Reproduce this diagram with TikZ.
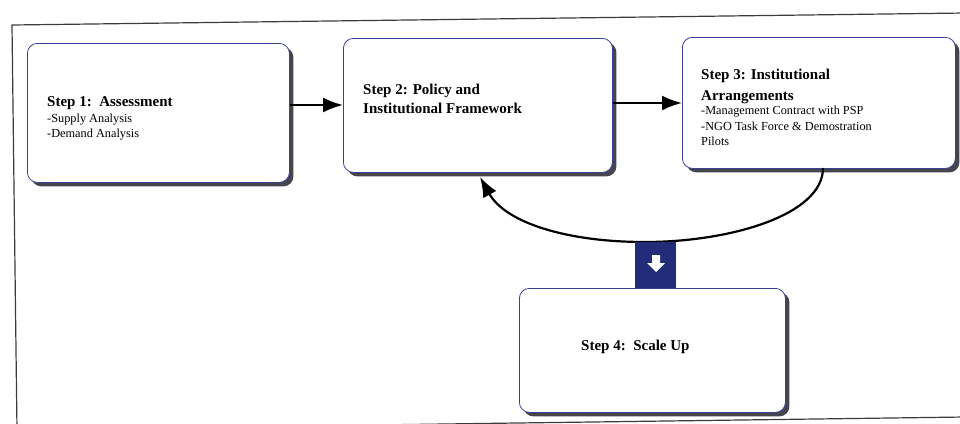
\documentclass[tikz,border=0pt]{standalone}
\usepackage{fontspec}
\setmainfont{Liberation Serif}
\usetikzlibrary{arrows.meta,shadows}

\definecolor{boxline}{HTML}{3B3F95}
\definecolor{boxshadow}{HTML}{45454D}
\definecolor{barblue}{HTML}{222C78}
\definecolor{framegray}{HTML}{3C3C3C}

\tikzset{
  stepbox/.style={draw=boxline, line width=0.8pt, fill=white, rounded corners=10pt,
    anchor=north west, inner sep=0pt,
    drop shadow={shadow xshift=4pt, shadow yshift=-4pt, fill=boxshadow, opacity=1}},
  titletext/.style={anchor=base west, inner sep=0pt, font=\fontsize{15}{15}\selectfont\bfseries},
  itemtext/.style={anchor=base west, inner sep=0pt, font=\fontsize{12.3}{12.3}\selectfont},
  flow/.style={line width=2.2pt, -{Latex[length=20pt, width=15pt]}},
}

\begin{document}
\begin{tikzpicture}[x=1pt, y=-1pt]
  \useasboundingbox (0,0) rectangle (960,423);
  \fill[white] (0,0) rectangle (960,423);

  % outer frame (page border)
  \begin{scope}
    \clip (0,0) rectangle (960,423);
    \draw[framegray, line width=1.2pt] (17,430) -- (12,25) -- (965,13);
    \draw[framegray, line width=1.2pt] (965,417) -- (480,423.5) -- (17,430);
  \end{scope}

  % step boxes
  \node[stepbox, minimum width=262pt, minimum height=139pt] (b1) at (27,43) {};
  \node[stepbox, minimum width=269pt, minimum height=134pt] (b2) at (343,38) {};
  \node[stepbox, minimum width=273pt, minimum height=131pt] (b3) at (682,37) {};
  \node[stepbox, minimum width=266pt, minimum height=124pt] (b4) at (519,288) {};

  % box texts
  \node[titletext] (t1) at (47,106) {Step 1:\ \ Assessment};
  \node[itemtext] (t1a) at (47,122) {-Supply Analysis};
  \node[itemtext] (t1b) at (47,137) {-Demand Analysis};

  \node[titletext] (t2a) at (363,94) {Step 2: Policy and};
  \node[titletext] (t2b) at (363,113) {Institutional Framework};

  \node[titletext] (t3a) at (701,79) {Step 3: Institutional};
  \node[titletext] (t3b) at (701,100) {Arrangements};
  \node[itemtext] (t3c) at (701,114) {-Management Contract with PSP};
  \node[itemtext] (t3d) at (701,130) {-NGO Task Force \& Demostration};
  \node[itemtext] (t3e) at (701,145) {Pilots};

  \node[titletext] (t4) at (581,350) {Step 4:\ \ Scale Up};

  % forward arrows
  \draw[flow] (b1.east |- 0,105) -- (b2.west |- 0,105);
  \draw[flow] (b2.east |- 0,103) -- (b3.west |- 0,103);

  % feedback loop from step 3 back to step 2
  \coordinate (loopstart) at (823,168);
  \coordinate (loopend) at (480,177);
  \draw[flow] (loopstart) .. controls (823,215) and (730,242) .. (645,242)
    .. controls (565,242) and (505,222) .. (loopend);

  % connector bar into step 4, with its white down arrow
  \node[fill=barblue, minimum width=41pt, minimum height=46pt, inner sep=0pt,
        anchor=north] (bar) at (655.5,242) {};
  \fill[white] (652,255) -- (660,255) -- (660,263) -- (665,263) -- (656,272)
    -- (647,263) -- (652,263) -- cycle;
\end{tikzpicture}
\end{document}
